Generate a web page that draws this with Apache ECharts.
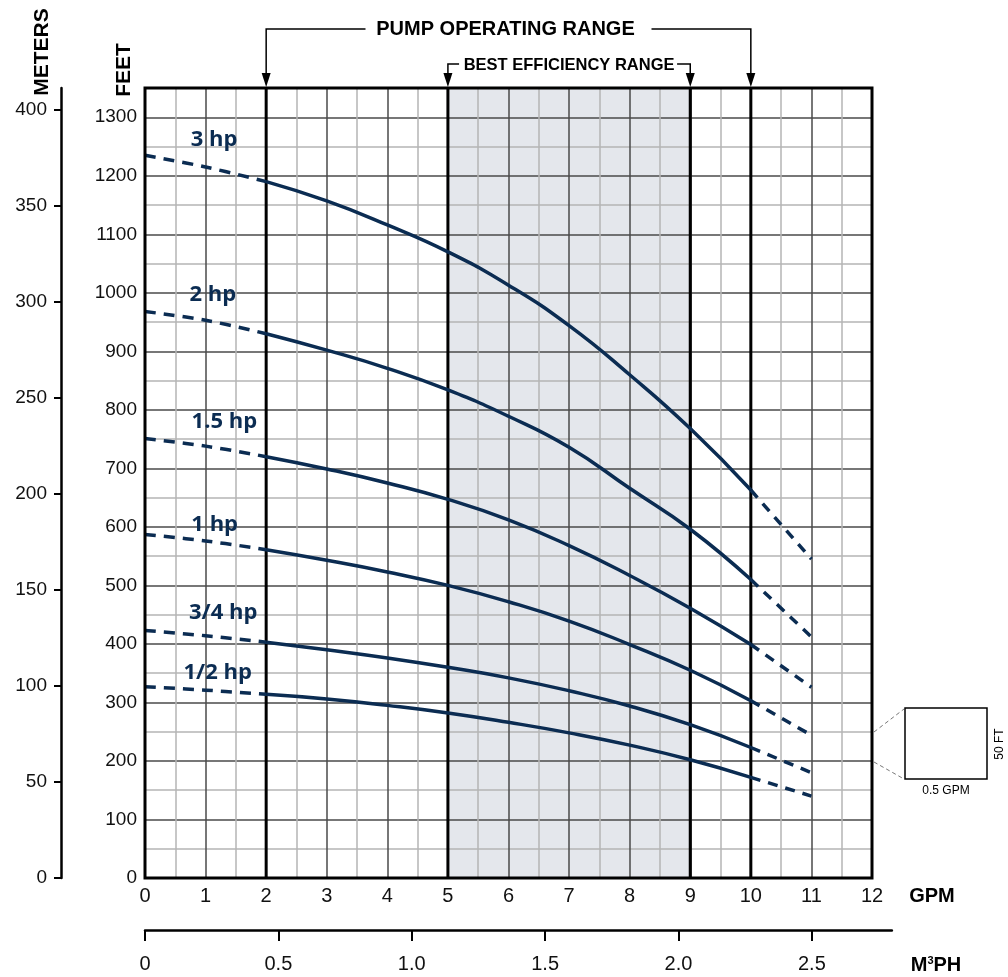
<!DOCTYPE html>
<html><head><meta charset="utf-8">
<script src="https://cdn.jsdelivr.net/npm/echarts@6/dist/echarts.min.js"></script>
<style>html,body{margin:0;padding:0;background:#fff}#c{width:1008px;height:977px}</style>
</head><body><div id="c"></div>
<script>
// ---- data ----
const gpm = [0, 1, 2, 3, 4, 5, 6, 7, 8, 9, 10, 11];
const hp3  = [1235, 1215, 1190, 1157, 1116, 1070, 1013, 944, 860, 768, 663, 545];
const hp2  = [968, 953, 930, 902, 871, 834, 789, 736, 666, 596, 510, 412];
const hp15 = [751, 738, 720, 699, 675, 647, 612, 568, 517, 461, 399, 326];
const hp1  = [587, 576, 561, 543, 523, 500, 472, 439, 399, 355, 303, 244];
const hp34 = [423, 414, 403, 390, 376, 360, 342, 320, 294, 262, 223, 180];
const hp12 = [327, 321, 314, 306, 295, 282, 266, 248, 227, 202, 172, 140];
const curveNames = ['3 hp', '2 hp', '1.5 hp', '1 hp', '3/4 hp', '1/2 hp'];
const curves = [hp3, hp2, hp15, hp1, hp34, hp12];
const labelGpm  = [1.14, 1.12, 1.31, 1.15, 1.29, 1.2];
const labelFeet = [1261, 996, 779, 603, 453, 350];
const operatingRange = [2, 10];
const efficiencyRange = [5, 9];
const gpmTicks = [0, 1, 2, 3, 4, 5, 6, 7, 8, 9, 10, 11, 12];
const m3phTicks = [0, 0.5, 1.0, 1.5, 2.0, 2.5];
const meterTicks = [0, 50, 100, 150, 200, 250, 300, 350, 400];
const feetMax = 1350;
const gpmMax = 12;
const m3phMax = 2.8;
const FT_PER_M = 3.28084;
const GPM_PER_M3PH = 4.40287;

// ---- layout ----
const W = 1008, H = 977;
const gLeft = 145, gRight = 136, gTop = 88, gBottom = 99;
const plotW = W - gLeft - gRight;
const m3Right = W - (gLeft + plotW * m3phMax * GPM_PER_M3PH / gpmMax);
const NAVY = '#0b2c52';
const numFont = { fontFamily: 'Liberation Sans, Arial, sans-serif', fontSize: 19, color: '#111' };
const narrowFont = { fontFamily: 'Liberation Sans Narrow, Liberation Sans, Arial, sans-serif', fontSize: 20, color: '#111' };

const chart = echarts.init(document.getElementById('c'), null, { renderer: 'canvas' });

const series = [];
// shaded best-efficiency band
series.push({
  type: 'line', xAxisIndex: 0, yAxisIndex: 0, z: -1, silent: true,
  data: [[efficiencyRange[0], feetMax], [efficiencyRange[1], feetMax]],
  symbol: 'none', lineStyle: { width: 0 },
  areaStyle: { color: '#e4e7ec', opacity: 1, origin: 'start' }
});
// thick range lines
[operatingRange[0], efficiencyRange[0], efficiencyRange[1], operatingRange[1]].forEach(v => {
  series.push({
    type: 'line', xAxisIndex: 0, yAxisIndex: 0, z: 1, silent: true,
    data: [[v, 0], [v, feetMax]], symbol: 'none',
    lineStyle: { color: '#000', width: 3 }
  });
});
// pump curves
curves.forEach((vals, k) => {
  const pts = gpm.map((g, i) => [g, vals[i]]);
  const left = pts.filter(p => p[0] <= operatingRange[0]);
  const mid = pts.filter(p => p[0] >= operatingRange[0] && p[0] <= operatingRange[1]);
  const right = pts.filter(p => p[0] >= operatingRange[1]);
  const base = { type: 'line', xAxisIndex: 0, yAxisIndex: 0, z: 2, symbol: 'none', silent: true, name: curveNames[k] };
  series.push(Object.assign({}, base, { data: left, smooth: 0.4, lineStyle: { color: NAVY, width: 3.5, type: [11, 8] } }));
  series.push(Object.assign({}, base, { data: mid, smooth: 0.5, lineStyle: { color: NAVY, width: 3.5 } }));
  series.push(Object.assign({}, base, { data: right, smooth: 0, lineStyle: { color: NAVY, width: 3.5, type: [10, 8] } }));
});
// curve labels
series.push({
  type: 'scatter', xAxisIndex: 0, yAxisIndex: 0, z: 3, silent: true, symbolSize: 0,
  itemStyle: { opacity: 1 },
  data: curveNames.map((n, i) => ({ name: n, value: [labelGpm[i], labelFeet[i]] })),
  label: { show: true, position: 'inside', formatter: '{b}', color: NAVY, opacity: 1,
    fontFamily: 'Open Sans, Noto Sans, sans-serif', fontWeight: 'bold', fontSize: 22 }
});

const option = {
  animation: false,
  backgroundColor: '#fff',
  grid: [
    { left: gLeft, right: gRight, top: gTop, bottom: gBottom, containLabel: false },
    { left: gLeft, right: m3Right, top: 890, bottom: 47, containLabel: false }
  ],
  xAxis: [
    { gridIndex: 0, type: 'value', min: 0, max: gpmMax, interval: 0.5,
      axisLine: { show: false }, axisTick: { show: false },
      axisLabel: Object.assign({ margin: 8, customValues: gpmTicks, formatter: v => String(v) }, narrowFont),
      splitLine: { show: true, lineStyle: { color: ['#4a4a4a', '#b4b4b4'], width: 1.5 } } },
    { gridIndex: 1, type: 'value', min: 0, max: m3phMax, position: 'bottom',
      axisLine: { show: true, lineStyle: { color: '#000', width: 2.5 } },
      axisTick: { show: true, customValues: m3phTicks, length: 11, inside: false, lineStyle: { color: '#000', width: 2 } },
      axisLabel: Object.assign({ margin: 24, customValues: m3phTicks, formatter: v => v === 0 ? '0' : v.toFixed(1) }, narrowFont),
      splitLine: { show: false } }
  ],
  yAxis: [
    { gridIndex: 0, type: 'value', min: 0, max: feetMax, interval: 50,
      axisLine: { show: false }, axisTick: { show: false },
      axisLabel: Object.assign({ margin: 8, formatter: v => (v % 100 === 0 && v < feetMax) ? String(v) : '' }, numFont),
      splitLine: { show: true, lineStyle: { color: ['#4a4a4a', '#b4b4b4'], width: 1.5 } } },
    { gridIndex: 0, type: 'value', min: 0, max: feetMax / FT_PER_M, position: 'left', offset: gLeft - 61,
      axisLine: { show: true, lineStyle: { color: '#000', width: 2.5 } },
      axisTick: { show: true, customValues: meterTicks, length: 7, inside: false, lineStyle: { color: '#000', width: 2 } },
      axisLabel: Object.assign({ margin: 14, customValues: meterTicks }, numFont),
      splitLine: { show: false } },
    { gridIndex: 1, type: 'value', show: false, min: 0, max: 1 }
  ],
  series: series
};
chart.setOption(option);

// ---- decorations computed through the chart's own scales ----
const P = (x, y) => chart.convertToPixel({ gridIndex: 0 }, [x, y]);
const topY = P(0, feetMax)[1];
const botY = P(0, 0)[1];
const x0 = P(0, 0)[0], xMax = P(gpmMax, 0)[0];
const xo1 = P(operatingRange[0], 0)[0], xo2 = P(operatingRange[1], 0)[0];
const xe1 = P(efficiencyRange[0], 0)[0], xe2 = P(efficiencyRange[1], 0)[0];
const pumpY = 29, bestY = 64;
const pumpC = (xo1 + xo2) / 2, bestC = (xe1 + xe2) / 2;
const lineSt = { stroke: '#000', lineWidth: 1.5, fill: null };
function arrow(x) {
  return { type: 'polygon', z: 100, shape: { points: [[x - 4.5, topY - 15], [x + 4.5, topY - 15], [x, topY - 1]] }, style: { fill: '#000' } };
}
const graphics = [
  { type: 'rect', z: 100, shape: { x: x0, y: topY, width: xMax - x0, height: botY - topY }, style: { fill: null, stroke: '#000', lineWidth: 3 } },
  { type: 'polyline', z: 100, shape: { points: [[xo1, topY - 10], [xo1, pumpY], [pumpC - 143, pumpY]] }, style: lineSt },
  { type: 'polyline', z: 100, shape: { points: [[pumpC + 143, pumpY], [xo2, pumpY], [xo2, topY - 10]] }, style: lineSt },
  { type: 'polyline', z: 100, shape: { points: [[xe1, topY - 10], [xe1, bestY], [bestC - 110, bestY]] }, style: lineSt },
  { type: 'polyline', z: 100, shape: { points: [[bestC + 108, bestY], [xe2, bestY], [xe2, topY - 10]] }, style: lineSt },
  arrow(xo1), arrow(xo2), arrow(xe1), arrow(xe2),
  { type: 'text', z: 100, x: pumpC - 3, y: pumpY, style: { text: 'PUMP OPERATING RANGE', font: 'bold 20px Liberation Sans, Arial, sans-serif', fill: '#000', align: 'center', verticalAlign: 'middle' } },
  { type: 'text', z: 100, x: bestC, y: bestY + 1, style: { text: 'BEST EFFICIENCY RANGE', font: 'bold 16.5px Liberation Sans, Arial, sans-serif', fill: '#000', align: 'center', verticalAlign: 'middle' } },
  { type: 'text', z: 100, x: 124, y: 70, rotation: Math.PI / 2, style: { text: 'FEET', font: 'bold 21px Liberation Sans, Arial, sans-serif', fill: '#000', align: 'center', verticalAlign: 'middle' } },
  { type: 'text', z: 100, x: 42, y: 52, rotation: Math.PI / 2, style: { text: 'METERS', font: 'bold 21px Liberation Sans, Arial, sans-serif', fill: '#000', align: 'center', verticalAlign: 'middle' } },
  { type: 'text', z: 100, x: 932, y: 896, style: { text: 'GPM', font: 'bold 20px Liberation Sans, Arial, sans-serif', fill: '#000', align: 'center', verticalAlign: 'middle' } },
  { type: 'text', z: 100, x: 936, y: 965, style: { text: '{a|M}{s|3}{a|PH}', fill: '#000', align: 'center', verticalAlign: 'middle',
      rich: { a: { font: 'bold 20px Liberation Sans, Arial, sans-serif', fill: '#000' }, s: { font: 'bold 11px Liberation Sans, Arial, sans-serif', fill: '#000', verticalAlign: 'top', padding: [0, 0, 9, 0] } } } },
  // scale key
  { type: 'rect', z: 100, shape: { x: 905, y: 708, width: 82, height: 71 }, style: { fill: '#fff', stroke: '#000', lineWidth: 1.5 } },
  { type: 'line', z: 100, shape: { x1: xMax + 2, y1: 732, x2: 904, y2: 709 }, style: { stroke: '#777', lineWidth: 1, lineDash: [4, 3] } },
  { type: 'line', z: 100, shape: { x1: xMax + 2, y1: 762, x2: 904, y2: 779 }, style: { stroke: '#777', lineWidth: 1, lineDash: [4, 3] } },
  { type: 'text', z: 100, x: 946, y: 791, style: { text: '0.5 GPM', font: '12px Liberation Sans, Arial, sans-serif', fill: '#000', align: 'center', verticalAlign: 'middle' } },
  { type: 'text', z: 100, x: 1000, y: 744, rotation: Math.PI / 2, style: { text: '50 FT', font: '12px Liberation Sans, Arial, sans-serif', fill: '#000', align: 'center', verticalAlign: 'middle' } }
];
chart.setOption({ graphic: { elements: graphics } });
</script>
</body></html>
